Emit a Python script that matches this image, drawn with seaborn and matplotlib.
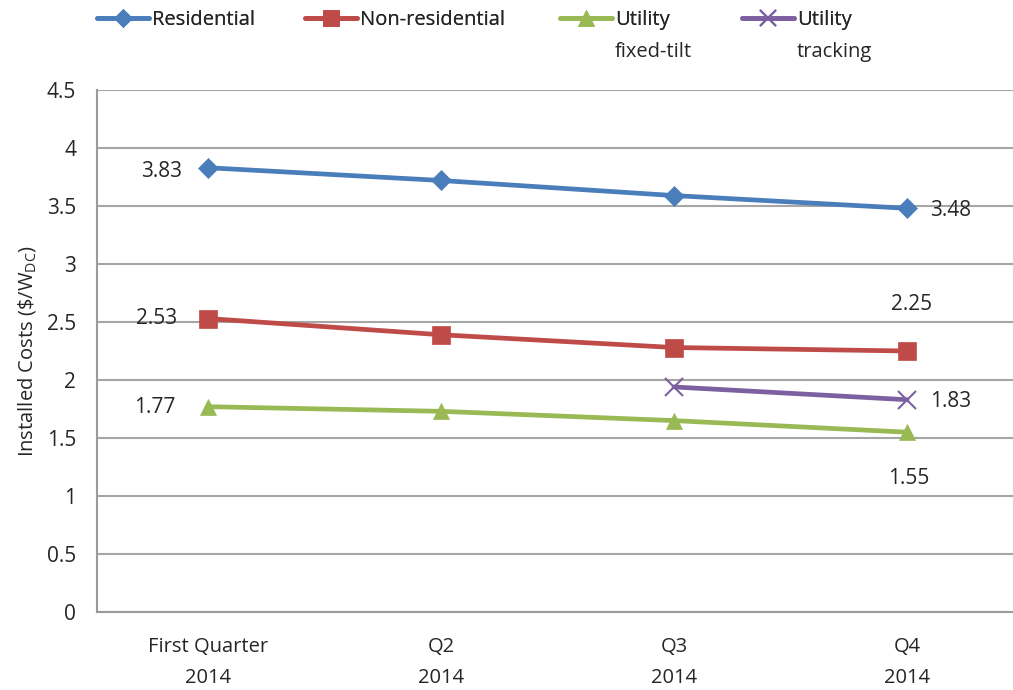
import matplotlib
matplotlib.use("Agg")
import matplotlib.pyplot as plt
import seaborn as sns
import pandas as pd
from matplotlib.lines import Line2D

quarters = ["First Quarter\n2014", "Q2\n2014", "Q3\n2014", "Q4\n2014"]
residential = [3.83, 3.72, 3.59, 3.48]
non_residential = [2.53, 2.39, 2.28, 2.25]
utility_fixed = [1.77, 1.73, 1.65, 1.55]
utility_tracking = [None, None, 1.94, 1.83]

series_names = ["Residential", "Non-residential", "Utility\nfixed-tilt", "Utility\ntracking"]
series_vals = [residential, non_residential, utility_fixed, utility_tracking]
colors = ["#4A7EBB", "#BE4B48", "#98B954", "#7D60A0"]
markers = ["D", "s", "^", "x"]
msizes = [10, 13, 12, 13]

sns.set_style("white")
plt.rcParams['font.family'] = ['Open Sans', 'DejaVu Sans']

W, H = 1013, 690
fig = plt.figure(figsize=(W / 100, H / 100), dpi=100)
ax = fig.add_axes([97 / W, 1 - 612 / H, (W - 97) / W, (612 - 90) / H])

rows = []
for name, vals in zip(series_names, series_vals):
    for i, v in enumerate(vals):
        if v is not None:
            rows.append({"x": i, "y": v, "series": name})
df = pd.DataFrame(rows)

for name, c, m, ms in zip(series_names, colors, markers, msizes):
    sub = df[df["series"] == name]
    sns.lineplot(data=sub, x="x", y="y", ax=ax, color=c, linewidth=3.4,
                 marker=m, markersize=ms, markeredgecolor=c,
                 markeredgewidth=1.5 if m == "x" else 0.5, zorder=3)

x_left = -111 / 233
ax.set_xlim(x_left, x_left + (W - 97) / 233)
ax.set_ylim(0, 4.5)
ax.set_yticks([i * 0.5 for i in range(10)])
ax.set_yticklabels(["0", "0.5", "1", "1.5", "2", "2.5", "3", "3.5", "4", "4.5"], fontsize=15)
ax.set_xticks(range(4))
ax.set_xticklabels(quarters, fontsize=14.5, linespacing=1.75)
ax.set_xticks([0.52, 1.52, 2.52], minor=True)
ax.tick_params(axis="x", which="major", length=0, pad=18)
ax.tick_params(axis="x", which="minor", length=7, color="#9a9a9a", width=1.2, direction="out")
ax.tick_params(axis="y", length=7, color="#9a9a9a", width=1.2, direction="out", pad=8)
ax.yaxis.grid(True, color="#a6a6a6", linewidth=1.5)
ax.set_axisbelow(True)
for s in ["top", "right"]:
    ax.spines[s].set_visible(False)
for s in ["left", "bottom"]:
    ax.spines[s].set_color("#9a9a9a")
    ax.spines[s].set_linewidth(1.5)
ax.set_xlabel("")
ax.set_ylabel("Installed Costs (\\$/W$_{\\mathregular{DC}}$)", fontsize=14.5, labelpad=6)

lab_fs = 15
k = 0.72  # px -> points
ax.annotate(f"{residential[0]:.2f}", (0, residential[0]), xytext=(-26 * k, -4 * k), textcoords="offset points", ha="right", va="center", fontsize=lab_fs)
ax.annotate(f"{non_residential[0]:.2f}", (0, non_residential[0]), xytext=(-31 * k, 0), textcoords="offset points", ha="right", va="center", fontsize=lab_fs)
ax.annotate(f"{utility_fixed[0]:.2f}", (0, utility_fixed[0]), xytext=(-33 * k, -1 * k), textcoords="offset points", ha="right", va="center", fontsize=lab_fs)
ax.annotate(f"{residential[3]:.2f}", (3, residential[3]), xytext=(23 * k, -2 * k), textcoords="offset points", ha="left", va="center", fontsize=lab_fs)
ax.annotate(f"{non_residential[3]:.2f}", (3, non_residential[3]), xytext=(5 * k, 46 * k), textcoords="offset points", ha="center", va="center", fontsize=lab_fs)
ax.annotate(f"{utility_tracking[3]:.2f}", (3, utility_tracking[3]), xytext=(23 * k, -2 * k), textcoords="offset points", ha="left", va="center", fontsize=lab_fs)
ax.annotate(f"{utility_fixed[3]:.2f}", (3, utility_fixed[3]), xytext=(2 * k, -46 * k), textcoords="offset points", ha="center", va="center", fontsize=lab_fs)

# legend: one entry per column, second line of text placed beneath
leg_x = [97, 305, 560, 742]
leg_fs = 14.5
for name, c, m, ms, lx in zip(series_names, colors, markers, msizes, leg_x):
    first, *rest = name.split("\n")
    h = Line2D([0], [0], color=c, lw=3.4, marker=m, markersize=ms - 1, markeredgecolor=c,
               markeredgewidth=1.5 if m == "x" else 0.5)
    lg = fig.legend([h], [first], loc="center left", bbox_to_anchor=(lx / W, 1 - 20 / H),
                    frameon=False, fontsize=leg_fs, handlelength=2.6, handletextpad=0.12,
                    borderpad=0, borderaxespad=0)
    fig.add_artist(lg)
    if rest:
        tx = lx + 2.6 * leg_fs / 0.72 + 0.12 * leg_fs / 0.72
        fig.text(tx / W, 1 - 52 / H, rest[0], fontsize=leg_fs, ha="left", va="center")

fig.savefig("out.png", dpi=100)
